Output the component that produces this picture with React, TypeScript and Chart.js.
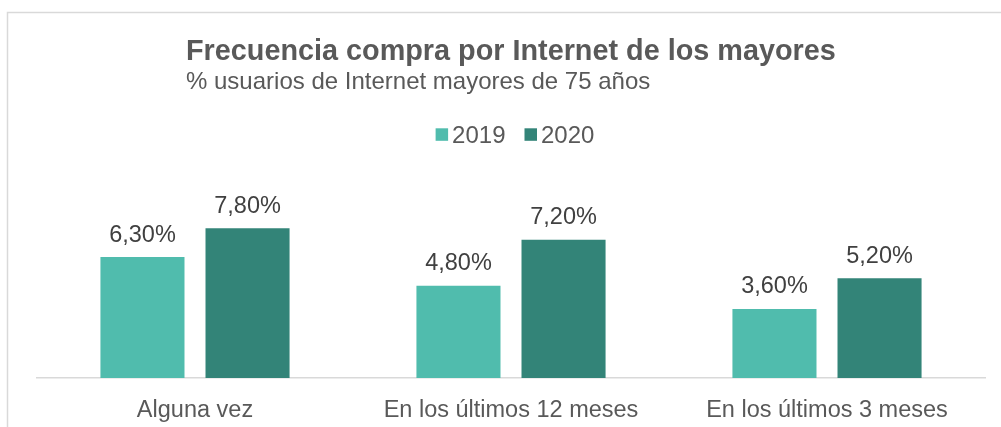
import React, { useEffect, useRef } from "react";
import { Chart, registerables } from "chart.js";

Chart.register(...registerables);

const categories = ["Alguna vez", "En los últimos 12 meses", "En los últimos 3 meses"];
const seriesLabels = ["2019", "2020"];
const values2019 = [6.3, 4.8, 3.6];
const values2020 = [7.8, 7.2, 5.2];
const seriesColors = ["#50BCAD", "#338478"];
const titleText = "Frecuencia compra por Internet de los mayores";
const subtitleText = "% usuarios de Internet mayores de 75 años";

const FONT = "'Liberation Sans', Arial, sans-serif";

const fmt = (v: number) => v.toFixed(2).replace(".", ",") + "%";

const decorPlugin = {
  id: "decor",
  beforeDraw(chart: any) {
    const ctx = chart.ctx;
    ctx.save();
    ctx.fillStyle = "#ffffff";
    ctx.fillRect(0, 0, chart.width, chart.height);
    ctx.strokeStyle = "#d9d9d9";
    ctx.lineWidth = 1.5;
    ctx.strokeRect(7.5, 12.5, chart.width + 20, chart.height + 20);
    ctx.restore();
  },
  afterDraw(chart: any) {
    const ctx = chart.ctx;
    const area = chart.chartArea;
    ctx.save();
    // title
    ctx.fillStyle = "#595959";
    ctx.textBaseline = "alphabetic";
    ctx.textAlign = "left";
    ctx.font = `bold 28.8px ${FONT}`;
    ctx.fillText(titleText, 186, 60);
    ctx.font = `24px ${FONT}`;
    ctx.fillText(subtitleText, 186, 89);

    // legend
    ctx.font = `24px ${FONT}`;
    const box = 12.5;
    const gapText = 4;
    const gapItem = 19;
    const items = chart.data.datasets.map((ds: any) => ({
      label: ds.label,
      color: ds.backgroundColor,
      w: box + gapText + ctx.measureText(ds.label).width,
    }));
    const total = items.reduce((s: number, it: any) => s + it.w, 0) + gapItem * (items.length - 1);
    let x = (area.left + area.right) / 2 + 4 - total / 2;
    const baseY = 143;
    items.forEach((it: any) => {
      ctx.fillStyle = it.color;
      ctx.fillRect(x, 128.3, box, box);
      ctx.fillStyle = "#595959";
      ctx.fillText(it.label, x + box + gapText, baseY);
      x += it.w + gapItem;
    });

    // data labels
    ctx.font = `23.5px ${FONT}`;
    ctx.fillStyle = "#404040";
    ctx.textAlign = "center";
    chart.data.datasets.forEach((ds: any, di: number) => {
      const meta = chart.getDatasetMeta(di);
      meta.data.forEach((bar: any, i: number) => {
        ctx.fillText(fmt(ds.data[i]), bar.x, bar.y - 15.5);
      });
    });
    ctx.restore();
  },
};

export default function App() {
  const ref = useRef<HTMLCanvasElement | null>(null);
  useEffect(() => {
    if (!ref.current) return;
    const chart = new Chart(ref.current, {
      type: "bar",
      data: {
        labels: categories,
        datasets: [
          { label: seriesLabels[0], data: values2019, backgroundColor: seriesColors[0] },
          { label: seriesLabels[1], data: values2020, backgroundColor: seriesColors[1] },
        ],
      },
      options: {
        responsive: false,
        animation: false,
        devicePixelRatio: 1,
        layout: { padding: { top: 186, bottom: 0, left: 37, right: 16 } },
        datasets: {
          bar: { categoryPercentage: 0.665, barPercentage: 0.8 },
        },
        plugins: {
          legend: { display: false },
          title: { display: false },
          tooltip: { enabled: false },
        },
        scales: {
          x: {
            grid: { display: false, drawTicks: false },
            border: { display: true, color: "#d9d9d9", width: 1.5 },
            afterFit: (scale: any) => {
              scale.height = 49;
            },
            ticks: {
              padding: 18,
              color: "#595959",
              font: { family: FONT, size: 23.5 },
              maxRotation: 0,
              autoSkip: false,
            },
          },
          y: {
            display: false,
            min: 0,
            max: 10,
          },
        },
      },
      plugins: [decorPlugin],
    });
    return () => chart.destroy();
  }, []);
  return (
    <div style={{ position: "fixed", left: 0, top: 0, width: 1001, height: 427, background: "#fff" }}>
      <canvas ref={ref} width={1001} height={427} style={{ display: "block", width: 1001, height: 427 }} />
    </div>
  );
}
